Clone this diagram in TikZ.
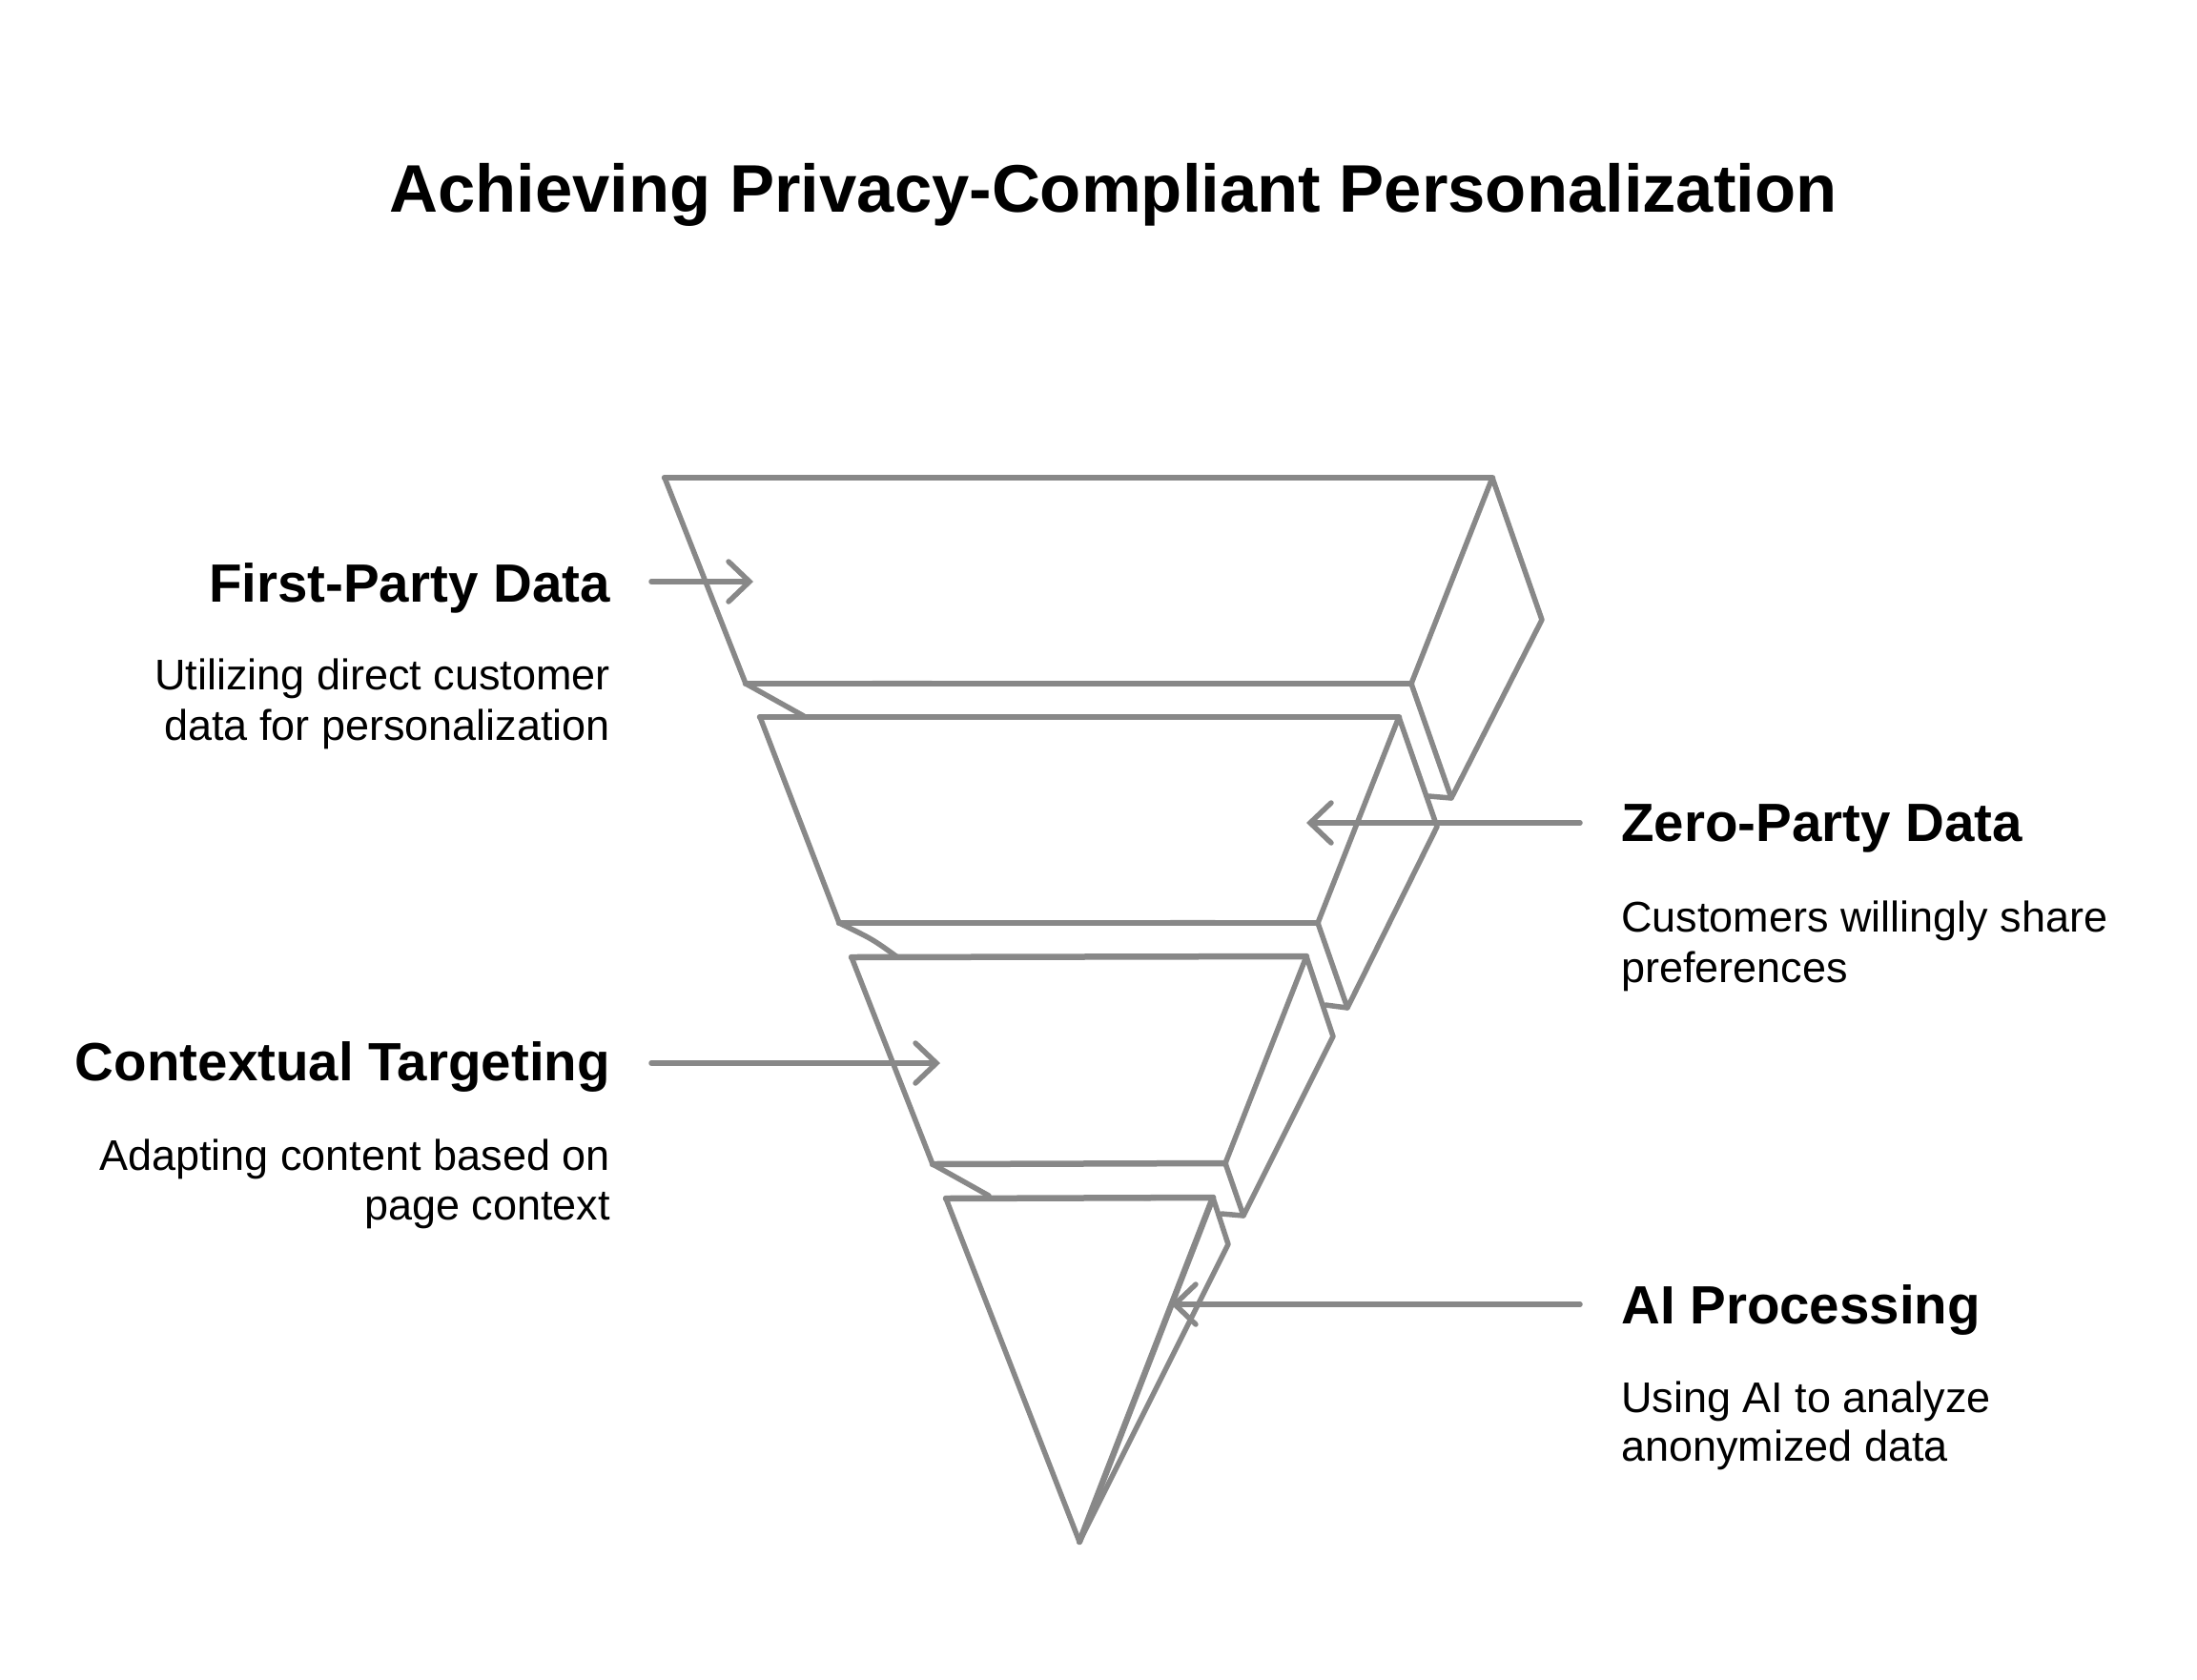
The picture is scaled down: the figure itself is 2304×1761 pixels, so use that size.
\documentclass[tikz,border=0pt]{standalone}
\usepackage{fontspec}
\setmainfont{Liberation Sans}
\usetikzlibrary{arrows.meta,calc}
\definecolor{sk}{HTML}{888888}
\begin{document}
\begin{tikzpicture}[x=1pt,y=-1pt,
  edge/.style={draw=sk, line width=5.5pt, line join=round, line cap=round},
  rim/.style={draw=sk, line width=6.5pt, line cap=round},
  pointer/.style={draw=sk, line width=5.5pt, line cap=round, -{Straight Barb[length=22pt,width=42pt,line cap=round]}},
  ttl/.style={font=\bfseries\fontsize{70.6}{84}\selectfont, inner sep=0pt},
  head/.style={font=\bfseries\fontsize{56.5}{68}\selectfont, inner sep=0pt},
  desc/.style={font=\fontsize{45}{54}\selectfont, inner sep=0pt}]
\fill[white] (0,0) rectangle (2304,1761);
\useasboundingbox (0,0) rectangle (2304,1761);

% title
\node[ttl, anchor=base] (title) at (1167.5,222) {Achieving Privacy-Compliant Personalization};

% funnel layer 1
\coordinate (a1) at (697,501);  \coordinate (b1) at (1565,501);
\coordinate (c1) at (1480,717); \coordinate (d1) at (782,717);
\coordinate (r1) at (1617,650); \coordinate (s1) at (1522,837); \coordinate (t1) at (1498,835);
% layer 2
\coordinate (a2) at (797,752);  \coordinate (b2) at (1467,752);
\coordinate (c2) at (1382,968); \coordinate (d2) at (880,968);
\coordinate (r2) at (1507,867); \coordinate (s2) at (1413,1057); \coordinate (t2) at (1390,1054);
% layer 3
\coordinate (a3) at (893,1004); \coordinate (b3) at (1370,1003);
\coordinate (c3) at (1285,1220); \coordinate (d3) at (978,1221);
\coordinate (r3) at (1398,1087); \coordinate (s3) at (1304,1275); \coordinate (t3) at (1281,1273);
% layer 4
\coordinate (a4) at (992,1257); \coordinate (b4) at (1272,1256);
\coordinate (p4) at (1132,1617); \coordinate (r4) at (1288,1305);

% layer 1 drawing
\draw[rim] (a1) -- (b1);
\draw[edge, line width=3pt] (a1) .. controls ($(a1)!0.3!(b1)+(0,-4)$) and ($(a1)!0.7!(b1)+(0,3)$) .. (b1);
\draw[rim] (d1) -- (c1);
\draw[edge, line width=3pt] (d1) .. controls ($(d1)!0.35!(c1)+(0,-5)$) and ($(d1)!0.65!(c1)+(0,4)$) .. (c1);
\draw[edge] (a1) -- (d1);
\draw[edge] (b1) -- (c1) -- (s1) -- (r1) -- cycle;
\draw[edge] (s1) -- (t1);
\draw[edge] (d1) -- (843,751);
% layer 2
\draw[rim] (a2) -- (b2);
\draw[edge, line width=3pt] (a2) .. controls ($(a2)!0.4!(b2)+(0,-4)$) and ($(a2)!0.7!(b2)+(0,4)$) .. (b2);
\draw[rim] (d2) -- (c2);
\draw[edge, line width=3pt] (d2) .. controls ($(d2)!0.3!(c2)+(0,4)$) and ($(d2)!0.6!(c2)+(0,-5)$) .. (c2);
\draw[edge] (a2) -- (d2);
\draw[edge] (b2) -- (c2) -- (s2) -- (r2) -- cycle;
\draw[edge] (s2) -- (t2);
\draw[edge] (d2) .. controls (915,985) .. (940,1003);
% layer 3
\draw[rim] (a3) -- (b3);
\draw[edge, line width=3pt] (a3) .. controls ($(a3)!0.35!(b3)+(0,4)$) and ($(a3)!0.65!(b3)+(0,-4)$) .. (b3);
\draw[rim] (d3) -- (c3);
\draw[edge, line width=3pt] (d3) .. controls ($(d3)!0.3!(c3)+(0,-4)$) and ($(d3)!0.7!(c3)+(0,3)$) .. (c3);
\draw[edge] (a3) -- (d3);
\draw[edge] (b3) -- (c3) -- (s3) -- (r3) -- cycle;
\draw[edge] (s3) -- (t3);
\draw[edge] (d3) -- (1037,1254);
% layer 4
\draw[rim] (a4) -- (b4);
\draw[edge, line width=3pt] (a4) .. controls ($(a4)!0.4!(b4)+(0,-3)$) and ($(a4)!0.7!(b4)+(0,4)$) .. (b4);
\draw[edge] (a4) -- (p4);
\draw[edge, line width=6.5pt] (b4) -- (p4);
\draw[edge] (b4) -- (r4) -- (p4);

% labels
\node[head, anchor=base east] (fp) at (640,631) {First-Party Data};
\node[desc, anchor=base east] (fpd1) at (640,723) {Utilizing direct customer};
\node[desc, anchor=base east] (fpd2) at (640,776) {data for personalization};

\node[head, anchor=base west] (zp) at (1700,882) {Zero-Party Data};
\node[desc, anchor=base west] (zpd1) at (1700,977) {Customers willingly share};
\node[desc, anchor=base west] (zpd2) at (1700,1030) {preferences};

\node[head, anchor=base east] (ct) at (640,1133) {Contextual Targeting};
\node[desc, anchor=base east] (ctd1) at (640,1227) {Adapting content based on};
\node[desc, anchor=base east] (ctd2) at (640,1279) {page context};

\node[head, anchor=base west] (ai) at (1700,1388) {AI Processing};
\node[desc, anchor=base west] (aid1) at (1700,1481) {Using AI to analyze};
\node[desc, anchor=base west] (aid2) at (1700,1532) {anonymized data};

% pointers
\coordinate (fps) at (683,610);  \coordinate (fpe) at (790,610);
\coordinate (zps) at (1657,863); \coordinate (zpe) at (1370,863);
\coordinate (cts) at (683,1115); \coordinate (cte) at (986,1115);
\coordinate (ais) at (1657,1368); \coordinate (aie) at (1228,1368);
\draw[pointer] (fps) -- (fpe);
\draw[pointer] (zps) -- (zpe);
\draw[pointer] (cts) -- (cte);
\draw[pointer] (ais) -- (aie);
\end{tikzpicture}
\end{document}
